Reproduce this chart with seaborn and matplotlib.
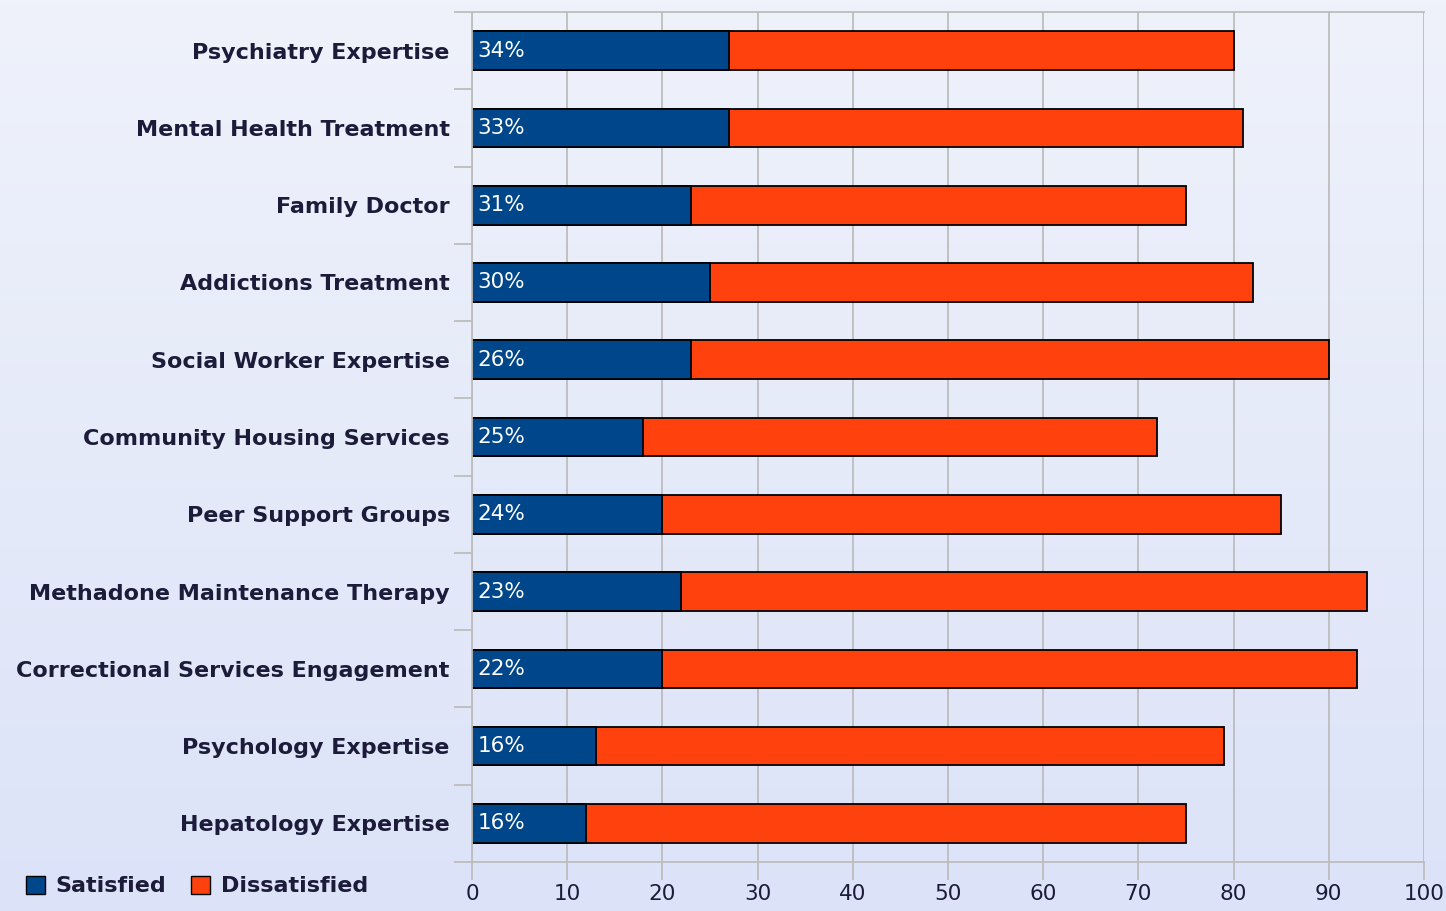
import numpy as np
import pandas as pd
import matplotlib
matplotlib.use("Agg")
import matplotlib.pyplot as plt
from matplotlib.patches import Patch
import seaborn as sns

categories = ["Psychiatry Expertise", "Mental Health Treatment", "Family Doctor",
              "Addictions Treatment", "Social Worker Expertise", "Community Housing Services",
              "Peer Support Groups", "Methadone Maintenance Therapy",
              "Correctional Services Engagement", "Psychology Expertise", "Hepatology Expertise"]
satisfied = [27, 27, 23, 25, 23, 18, 20, 22, 20, 13, 12]
dissatisfied = [53, 54, 52, 57, 67, 54, 65, 72, 73, 66, 63]
pct_labels = ["34%", "33%", "31%", "30%", "26%", "25%", "24%", "23%", "22%", "16%", "16%"]
x_ticks = [0, 10, 20, 30, 40, 50, 60, 70, 80, 90, 100]

df = pd.DataFrame({"service": categories, "satisfied": satisfied, "dissatisfied": dissatisfied})
df["total"] = df["satisfied"] + df["dissatisfied"]

sns.set_style("white")
plt.rcParams["font.family"] = ["DejaVu Sans"]

blue = "#00468a"
orange = "#ff410d"
text_col = "#1c1c3a"
grid_col = "#bdbdbd"

fig = plt.figure(figsize=(14.46, 9.11), dpi=100)

# gradient background over the whole figure
bg = fig.add_axes([0, 0, 1, 1], zorder=-10)
grad = np.linspace(0, 1, 256).reshape(-1, 1)
cmap = matplotlib.colors.LinearSegmentedColormap.from_list("bg", ["#eff2fb", "#dce3f8"])
bg.imshow(grad, aspect="auto", cmap=cmap, extent=[0, 1, 0, 1], origin="upper")
bg.axis("off")

ax = fig.add_axes([472 / 1446, 1 - 862 / 911, (1424 - 472) / 1446, (862 - 12) / 911])
ax.patch.set_alpha(0)

sns.barplot(data=df, x="total", y="service", color=orange, orient="h", width=0.5,
            edgecolor="black", linewidth=1.3, ax=ax, saturation=1)
sns.barplot(data=df, x="satisfied", y="service", color=blue, orient="h", width=0.5,
            edgecolor="black", linewidth=1.3, ax=ax, saturation=1)

for i, lab in enumerate(pct_labels):
    ax.text(0.6, i, lab, color="white", fontsize=15.5, va="center", ha="left")

ax.set_xlim(0, 100)
ax.set_ylim(len(categories) - 0.5, -0.5)
ax.set_xticks(x_ticks)
ax.set_xticklabels([str(t) for t in x_ticks], fontsize=15.5, color=text_col)
ax.set_xlabel("")
ax.set_ylabel("")
ax.xaxis.grid(True, color=grid_col, linewidth=1.3)
ax.set_axisbelow(True)
ax.tick_params(axis="x", bottom=True, length=13, color=grid_col, width=1.3, pad=3)

# category boundary ticks on y
ax.set_yticks(np.arange(len(categories)))
ax.set_yticklabels(categories, fontsize=16, fontweight="bold", color=text_col)
ax.set_yticks(np.arange(-0.5, len(categories), 1), minor=True)
ax.tick_params(axis="y", which="major", left=False, length=0, pad=16)
ax.tick_params(axis="y", which="minor", left=True, length=13, color=grid_col, width=1.3)

for side in ["left", "top", "bottom"]:
    ax.spines[side].set_color(grid_col)
    ax.spines[side].set_linewidth(1.3)
ax.spines["right"].set_visible(False)

handles = [Patch(facecolor=blue, edgecolor="black", label="Satisfied"),
           Patch(facecolor=orange, edgecolor="black", label="Dissatisfied")]
leg = fig.legend(handles=handles, loc="lower left", bbox_to_anchor=(0.004, -0.006), ncol=2,
                 frameon=False, handlelength=0.85, handleheight=0.85,
                 handletextpad=0.5, columnspacing=1.1, prop={"weight": "bold", "size": 16})
for t in leg.get_texts():
    t.set_color(text_col)

fig.savefig("out.png", dpi=100)
